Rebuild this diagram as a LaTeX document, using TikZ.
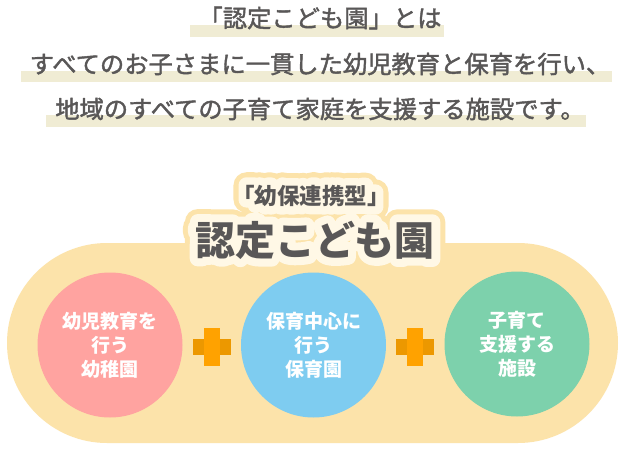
\documentclass[tikz,border=0pt]{standalone}
\usepackage{fontspec}
\setmainfont{Noto Sans CJK JP}
\usepackage{tikz}
\usetikzlibrary{positioning, calc, backgrounds}
\definecolor{ink}{RGB}{89,87,87}
\definecolor{marker}{RGB}{240,236,212}
\definecolor{sand}{RGB}{252,227,170}
\definecolor{cream}{RGB}{255,248,230}
\definecolor{rose}{RGB}{255,163,160}
\definecolor{sky}{RGB}{126,204,240}
\definecolor{mint}{RGB}{125,209,172}
\definecolor{amber}{RGB}{255,162,0}
\definecolor{deepamber}{RGB}{236,152,0}
% stroked text for the halo round the title
\newcommand{\outlined}[2]{\special{pdf:literal direct 2 Tr #1 w 1 j}#2\special{pdf:literal direct 0 Tr}}

\begin{document}
\begin{tikzpicture}[
    x=1pt, y=-1pt,
    lead/.style={text=ink, inner sep=0pt, font=\fontsize{24.3}{28}\selectfont},
    bar/.style={fill=marker},
    headline/.style={inner sep=0pt, font=\bfseries\fontsize{40}{44}\selectfont},
    subhead/.style={inner sep=0pt, font=\bfseries\fontsize{22.5}{26}\selectfont},
    band/.style={fill=sand, minimum width=611pt, minimum height=200pt, rounded corners=100pt, inner sep=0pt},
    field/.style={circle, minimum size=145pt, inner sep=0pt, text=white, align=center,
                  font=\bfseries\fontsize{19}{24}\selectfont},
    hbar/.style={fill=deepamber, minimum width=38pt, minimum height=16pt, inner sep=0pt},
    vbar/.style={fill=amber, minimum width=16pt, minimum height=38pt, inner sep=0pt}
]
    \useasboundingbox (0,0) rectangle (625,450);

    % Lead text with marker lines
    \node[lead] (l1) at (320,18) {\outlined{0.4}{「認定こども園」とは}};
    \node[lead] (l2) at (320,64) {\outlined{0.4}{すべてのお子さまに一貫した幼児教育と保育を行い、}};
    \node[lead] (l3) at (320,109) {\outlined{0.4}{地域のすべての子育て家庭を支援する施設です。}};
    \begin{pgfonlayer}{background}
        \fill[white] (0,0) rectangle (625,450);
        \fill[bar] ($(l1.west)+(-8,7)$) rectangle ($(l1.east)+(2,19)$);
        \fill[bar] ($(l2.west)+(-9,7)$) rectangle ($(l2.east)+(2,18)$);
        \fill[bar] ($(l3.west)+(-9,6)$) rectangle ($(l3.east)+(1,18)$);
    \end{pgfonlayer}

    % Band behind the three facilities
    \node[band] (band) at (312.5,343) {};

    % Title with its halo
    \node[subhead, text=sand] (kind-out) at (311,196) {\outlined{26}{「幼保連携型」}};
    \node[headline, text=sand] (title-out) at (315,240) {\outlined{26}{認定こども園}};
    \node[subhead, text=cream] (kind-in) at (311,196) {\outlined{16}{「幼保連携型」}};
    \node[headline, text=cream] (title-in) at (315,240) {\outlined{16}{認定こども園}};
    \node[subhead, text=ink] (kind) at (311,196) {「幼保連携型」};
    \node[headline, text=ink] (title) at (315,240) {認定こども園};

    % Facilities
    \node[field, fill=rose] (kinder) at (110,345) {幼児教育を\\行う\\幼稚園};
    \node[field, fill=sky] (nursery) at (313.5,345) {保育中心に\\行う\\保育園};
    \node[field, fill=mint] (support) at (517,344) {子育て\\支援する\\施設};

    % Plus signs
    \node[hbar] (plusa-h) at (212,347) {};
    \node[vbar] (plusa-v) at (212,347) {};
    \node[hbar] (plusb-h) at (415,347) {};
    \node[vbar] (plusb-v) at (415,347) {};
\end{tikzpicture}
\end{document}
